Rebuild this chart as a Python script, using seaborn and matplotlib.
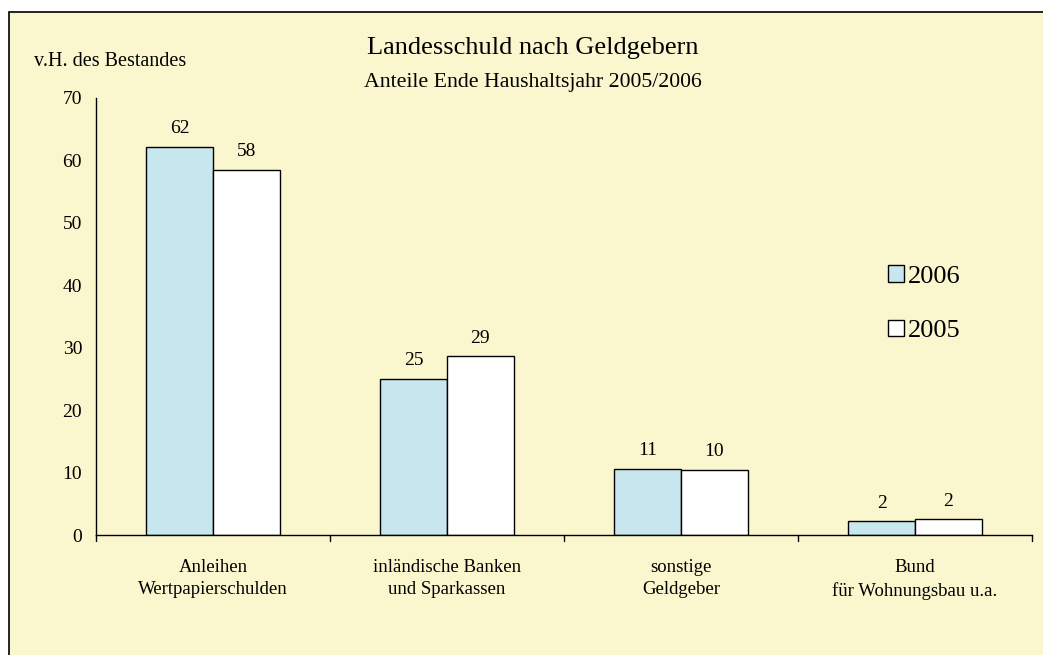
import numpy as np
import pandas as pd
import matplotlib
matplotlib.use('Agg')
import matplotlib.pyplot as plt
import seaborn as sns
from matplotlib.patches import Rectangle, Patch

categories = ['Anleihen\nWertpapierschulden', 'inländische Banken\nund Sparkassen',
              'sonstige\nGeldgeber', 'Bund\nfür Wohnungsbau u.a.']
years = ['2006', '2005']
values_2006 = [62.2, 25.0, 10.6, 2.2]
values_2005 = [58.5, 28.6, 10.4, 2.5]
labels_2006 = ['62', '25', '11', '2']
labels_2005 = ['58', '29', '10', '2']

bg = '#FAF6CE'
colors = {'2006': '#C8E6EE', '2005': '#FFFFFF'}

df = pd.DataFrame({
    'Kategorie': categories * 2,
    'Jahr': ['2006'] * 4 + ['2005'] * 4,
    'Wert': values_2006 + values_2005,
})

sns.set_theme(style='white')
plt.rcParams['font.family'] = ['Liberation Serif', 'DejaVu Serif']
plt.rcParams['text.color'] = 'black'
plt.rcParams['xtick.color'] = 'black'
plt.rcParams['ytick.color'] = 'black'

fig = plt.figure(figsize=(10.43, 6.55), dpi=100)
fig.patch.set_facecolor('white')
# outer frame
frame = Rectangle((9 / 1043, -0.01), 1.02, 1 - 12 / 655 + 0.01, transform=fig.transFigure,
                  facecolor=bg, edgecolor='black', linewidth=1.2, zorder=-10)
fig.patches.append(frame)

ax = fig.add_axes([96 / 1043, 1 - 535 / 655, (1032 - 96) / 1043, (535 - 98) / 655])
ax.set_facecolor('none')
sns.barplot(data=df, x='Kategorie', y='Wert', hue='Jahr', hue_order=years,
            palette=colors, saturation=1, width=0.57, edgecolor='black', linewidth=1.0,
            legend=False, ax=ax)

ax.set_ylim(0, 70)
ax.set_xlim(-0.5, 3.5)
ax.set_yticks(np.arange(0, 71, 10))
ax.set_xlabel('')
ax.set_ylabel('')
for s in ['top', 'right']:
    ax.spines[s].set_visible(False)
ax.spines['left'].set_color('black')
ax.spines['bottom'].set_color('black')
ax.spines['left'].set_linewidth(1.0)
ax.spines['bottom'].set_linewidth(1.0)

ax.set_xticks([0, 1, 2, 3])
ax.set_xticklabels(categories, fontsize=13.5, linespacing=1.45)
ax.tick_params(axis='x', length=0, pad=17)
ax.tick_params(axis='y', direction='out', length=5, width=1, color='black', labelsize=14, pad=5)
# boundary ticks on x axis
for b in [-0.5, 0.5, 1.5, 2.5, 3.5]:
    ax.plot([b, b], [0, -0.9], color='black', lw=1, clip_on=False)

for cont, labs in zip(ax.containers, [labels_2006, labels_2005]):
    ax.bar_label(cont, labels=labs, padding=7, fontsize=14)

fig.text(533 / 1043, 1 - 48 / 655, 'Landesschuld nach Geldgebern', ha='center', va='center', fontsize=19)
fig.text(533 / 1043, 1 - 82 / 655, 'Anteile Ende Haushaltsjahr 2005/2006', ha='center', va='center', fontsize=15.7)
fig.text(34 / 1043, 1 - 62 / 655, 'v.H. des Bestandes', ha='left', va='center', fontsize=14.5)

handles = [Patch(facecolor=colors[y], edgecolor='black', linewidth=1) for y in years]
fig.legend(handles, years, loc='upper left', bbox_to_anchor=(875 / 1043, 1 - 252 / 655),
           frameon=False, fontsize=19, handlelength=0.6, handleheight=0.6,
           handletextpad=0.15, labelspacing=1.2, borderpad=0)

fig.savefig('out.png', dpi=100, facecolor='white')
